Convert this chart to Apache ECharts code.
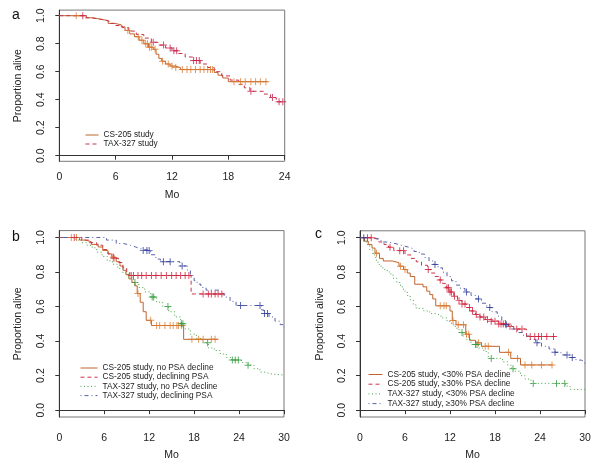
<!DOCTYPE html>
<html>
<head>
<meta charset="utf-8">
<script src="https://cdn.jsdelivr.net/npm/echarts@6/dist/echarts.min.js"></script>
<style>
html,body{margin:0;padding:0;background:#fff;}
#chart{width:600px;height:466px;}
</style>
</head>
<body>
<div id="chart"></div>
<script>
// ---------- Tick labels ----------
var yTicks = [0, 0.2, 0.4, 0.6, 0.8, 1.0];
var xMaxA = 24, xMaxBC = 30, xStep = 6;

// ---------- Panel a ----------
var aNames = ["CS-205 study", "TAX-327 study"];
var aCsT = [0, 2.9, 3.6, 4.4, 5.2, 5.9, 6.6, 7.0, 7.5, 8.0, 8.5, 9.0, 9.5, 10.0, 10.3, 10.6, 10.9, 11.3, 11.8, 12.3, 12.9, 16.5, 16.9, 17.4, 18.0, 22.2];
var aCsS = [1.0, 0.985, 0.975, 0.965, 0.945, 0.935, 0.92, 0.895, 0.87, 0.85, 0.825, 0.80, 0.775, 0.76, 0.725, 0.695, 0.675, 0.655, 0.64, 0.63, 0.615, 0.595, 0.575, 0.555, 0.529, 0.529];
var aCsCens = [1.8, 7.3, 8.4, 8.8, 9.2, 9.4, 9.6, 9.8, 10.2, 11.0, 11.6, 12.0, 12.4, 13.1, 13.6, 14.0, 14.5, 15.0, 15.4, 15.8, 16.1, 16.3, 18.6, 19.3, 19.8, 20.4, 20.9, 21.4, 22.0];
var aTaxT = [0, 2.7, 3.4, 4.4, 5.3, 6.0, 6.7, 7.4, 8.2, 9.0, 9.8, 10.5, 11.3, 12.0, 12.6, 13.4, 14.2, 15.0, 15.8, 16.5, 17.3, 18.2, 19.1, 19.7, 20.3, 21.8, 22.5, 23.1, 24.0];
var aTaxS = [1.0, 0.985, 0.975, 0.962, 0.945, 0.93, 0.915, 0.89, 0.865, 0.84, 0.81, 0.79, 0.77, 0.75, 0.73, 0.705, 0.68, 0.655, 0.63, 0.60, 0.57, 0.54, 0.51, 0.485, 0.46, 0.44, 0.415, 0.385, 0.385];
var aTaxCens = [2.5, 10.0, 11.1, 11.8, 12.2, 12.5, 14.3, 14.6, 14.9, 20.4, 22.7, 23.4, 23.8];

// ---------- Panel b ----------
var bNames = ["CS-205 study, no PSA decline", "CS-205 study, declining PSA", "TAX-327 study, no PSA decline", "TAX-327 study, declining PSA"];
var bCsNoT = [0, 2.7, 3.5, 4.3, 5.2, 5.8, 6.5, 7.0, 7.6, 8.1, 8.5, 8.9, 9.3, 9.7, 10.1, 10.4, 10.8, 11.2, 11.6, 12.3, 16.6, 21.2];
var bCsNoS = [1.0, 0.985, 0.975, 0.96, 0.945, 0.925, 0.905, 0.885, 0.86, 0.835, 0.81, 0.785, 0.76, 0.74, 0.72, 0.675, 0.625, 0.57, 0.52, 0.49, 0.41, 0.41];
var bCsNoCens = [1.6, 2.3, 7.2, 10.5, 12.2, 13.0, 13.4, 14.1, 14.8, 15.2, 15.7, 15.9, 16.3, 17.7, 18.6, 19.2, 20.3, 20.8];
var bCsDecT = [0, 3.0, 4.0, 5.0, 5.8, 6.5, 7.2, 7.9, 8.5, 9.0, 9.4, 17.6, 22.1];
var bCsDecS = [1.0, 0.985, 0.97, 0.955, 0.93, 0.905, 0.88, 0.855, 0.825, 0.80, 0.78, 0.673, 0.673];
var bCsDecCens = [2.0, 7.3, 9.6, 9.9, 10.5, 11.0, 11.6, 12.3, 12.9, 13.6, 14.3, 15.0, 15.6, 16.2, 16.8, 17.3, 19.2, 19.9, 20.3, 20.8, 21.2, 21.7];
var bTaxNoT = [0, 2.2, 3.0, 3.7, 4.4, 5.0, 5.7, 6.4, 7.1, 7.8, 8.5, 9.2, 9.9, 10.6, 11.4, 12.2, 13.0, 13.8, 14.6, 15.4, 16.2, 16.8, 17.5, 18.3, 19.1, 19.9, 20.7, 21.5, 22.3, 23.0, 24.3, 25.2, 26.0, 26.8, 27.5, 28.2, 30];
var bTaxNoS = [1.0, 0.985, 0.97, 0.955, 0.94, 0.915, 0.89, 0.865, 0.845, 0.82, 0.795, 0.77, 0.74, 0.71, 0.685, 0.655, 0.625, 0.60, 0.57, 0.54, 0.50, 0.47, 0.44, 0.415, 0.39, 0.36, 0.345, 0.325, 0.305, 0.29, 0.275, 0.26, 0.24, 0.22, 0.21, 0.203, 0.203];
var bTaxNoCens = [10.1, 12.4, 12.6, 14.5, 16.3, 16.5, 19.8, 23.1, 23.5, 23.9, 25.2];
var bTaxDecT = [0, 6.3, 7.6, 8.6, 9.5, 10.2, 10.8, 12.2, 12.9, 13.5, 16.1, 17.1, 17.5, 18.0, 18.4, 18.9, 19.6, 21.3, 22.0, 22.8, 23.6, 27.0, 27.3, 28.0, 28.8, 29.5, 30];
var bTaxDecS = [1.0, 0.985, 0.965, 0.955, 0.945, 0.935, 0.924, 0.90, 0.875, 0.86, 0.835, 0.81, 0.78, 0.75, 0.73, 0.71, 0.695, 0.676, 0.655, 0.63, 0.606, 0.58, 0.56, 0.54, 0.515, 0.495, 0.48];
var bTaxDecCens = [11.2, 11.7, 12.0, 13.9, 14.8, 16.4, 24.2, 26.8, 27.4, 27.8];

// ---------- Panel c ----------
var cNames = ["CS-205 study, <30% PSA decline", "CS-205 study, \u226530% PSA decline", "TAX-327 study, <30% PSA decline", "TAX-327 study, \u226530% PSA decline"];
var cCsLoT = [0, 0.6, 1.1, 1.6, 2.0, 2.6, 3.1, 4.3, 5.2, 5.8, 6.3, 6.7, 7.3, 8.4, 8.9, 9.3, 9.7, 10.1, 12.0, 12.3, 12.8, 14.1, 14.6, 15.4, 16.2, 18.6, 20.1, 21.4, 25.7];
var cCsLoS = [1.0, 0.98, 0.96, 0.94, 0.91, 0.88, 0.865, 0.855, 0.835, 0.815, 0.795, 0.775, 0.73, 0.715, 0.69, 0.67, 0.645, 0.605, 0.575, 0.52, 0.495, 0.44, 0.405, 0.39, 0.37, 0.335, 0.30, 0.262, 0.262];
var cCsLoCens = [2.2, 5.4, 6.0, 10.7, 11.2, 11.5, 12.4, 13.1, 13.8, 14.2, 14.5, 15.8, 16.7, 17.1, 19.8, 21.0, 22.0, 22.9, 24.2, 25.6];
var cCsHiT = [0, 1.6, 2.5, 3.2, 3.8, 4.5, 6.0, 6.8, 7.5, 8.2, 9.0, 9.5, 10.0, 10.5, 11.0, 11.5, 12.0, 12.5, 13.0, 13.6, 14.2, 14.8, 15.4, 16.0, 16.7, 17.5, 18.5, 19.8, 20.5, 22.2, 26.4];
var cCsHiS = [1.0, 0.99, 0.975, 0.96, 0.945, 0.925, 0.9, 0.88, 0.86, 0.84, 0.815, 0.795, 0.775, 0.755, 0.735, 0.71, 0.685, 0.66, 0.635, 0.615, 0.595, 0.575, 0.555, 0.54, 0.525, 0.515, 0.50, 0.485, 0.47, 0.427, 0.427];
var cCsHiCens = [1.0, 1.5, 4.0, 5.3, 5.8, 9.1, 10.7, 11.6, 11.8, 12.0, 12.2, 12.6, 13.2, 13.6, 14.0, 14.6, 15.0, 15.5, 16.0, 16.5, 17.0, 17.5, 18.0, 18.5, 18.8, 19.1, 19.4, 20.0, 20.9, 21.6, 22.7, 23.3, 23.8, 24.2, 24.9, 25.8];
var cTaxLoT = [0, 0.5, 0.9, 1.3, 1.7, 2.1, 2.4, 2.8, 3.3, 3.9, 4.4, 4.9, 5.4, 5.8, 6.3, 6.7, 7.1, 7.5, 8.5, 9.3, 10.0, 10.8, 11.6, 12.2, 12.7, 13.2, 13.7, 14.2, 14.8, 15.8, 16.5, 17.1, 19.0, 19.7, 20.2, 20.7, 21.4, 22.0, 22.8, 27.4, 28.0, 30];
var cTaxLoS = [1.0, 0.98, 0.96, 0.93, 0.90, 0.87, 0.845, 0.825, 0.81, 0.79, 0.765, 0.74, 0.715, 0.69, 0.665, 0.64, 0.61, 0.59, 0.575, 0.56, 0.55, 0.535, 0.515, 0.495, 0.475, 0.45, 0.43, 0.41, 0.38, 0.36, 0.34, 0.30, 0.28, 0.26, 0.24, 0.225, 0.20, 0.18, 0.155, 0.14, 0.12, 0.12];
var cTaxLoCens = [13.6, 15.4, 15.6, 17.5, 20.4, 23.1, 26.2, 27.3];
var cTaxHiT = [0, 1.8, 2.8, 3.8, 4.8, 5.6, 6.5, 7.2, 7.9, 8.6, 9.2, 9.8, 10.4, 11.0, 11.6, 12.2, 12.8, 13.4, 14.0, 14.8, 15.5, 16.2, 16.9, 17.6, 18.3, 18.9, 19.5, 20.2, 21.0, 21.8, 22.6, 23.4, 24.2, 25.2, 26.0, 26.8, 28.0, 28.8, 29.5, 30];
var cTaxHiS = [1.0, 0.99, 0.975, 0.965, 0.955, 0.945, 0.935, 0.92, 0.905, 0.885, 0.865, 0.845, 0.825, 0.80, 0.775, 0.75, 0.725, 0.705, 0.685, 0.665, 0.645, 0.62, 0.595, 0.57, 0.545, 0.52, 0.495, 0.47, 0.45, 0.43, 0.41, 0.39, 0.37, 0.355, 0.335, 0.32, 0.305, 0.29, 0.28, 0.27];
var cTaxHiCens = [0.5, 10.0, 14.2, 15.8, 17.3, 19.5, 23.6, 26.0, 27.6, 28.3];

// ---------- Styles ----------
var FONT = "'Liberation Sans', Arial, Helvetica, sans-serif";
var COL = {
  orange: {line: '#c0652c', mark: '#dc7a30'},
  red:    {line: '#cc3448', mark: '#d0203c'},
  pink:   {line: '#c8324e', mark: '#c82048'},
  green:  {line: '#4aa24a', mark: '#2e9a3a'},
  blue:   {line: '#5862a8', mark: '#2c3a9c'}
};
var DASH = {solid: 'solid', dashed: [4, 3], dotted: [1, 2.5], dashdot: [1, 3, 4, 3]};
var PLUS = 'path://M-0.14,-1H0.14V-0.14H1V0.14H0.14V1H-0.14V0.14H-1V-0.14H-0.14Z';

function stepAt(ts, ss, t) {
  var v = ss[0];
  for (var i = 0; i < ts.length; i++) { if (ts[i] <= t) v = ss[i]; else break; }
  return v;
}

var series = [];
function addCurve(idx, name, ts, ss, cens, col, dash) {
  series.push({
    type: 'line', name: name, step: 'end', xAxisIndex: idx, yAxisIndex: idx,
    symbol: 'none', showSymbol: false, animation: false, z: 2,
    lineStyle: {color: col.line, width: 1, type: dash},
    itemStyle: {color: col.line},
    data: ts.map(function (t, i) { return [t, ss[i]]; })
  });
  series.push({
    type: 'scatter', name: name + ' (censored)', xAxisIndex: idx, yAxisIndex: idx,
    symbol: PLUS, symbolSize: 7, animation: false, z: 3, silent: true,
    itemStyle: {color: col.mark},
    data: cens.map(function (t) { return [t, stepAt(ts, ss, t)]; })
  });
}

addCurve(0, aNames[0], aCsT, aCsS, aCsCens, COL.orange, DASH.solid);
addCurve(0, aNames[1], aTaxT, aTaxS, aTaxCens, COL.pink, DASH.dashed);
addCurve(1, bNames[0], bCsNoT, bCsNoS, bCsNoCens, COL.orange, DASH.solid);
addCurve(1, bNames[1], bCsDecT, bCsDecS, bCsDecCens, COL.red, DASH.dashed);
addCurve(1, bNames[2], bTaxNoT, bTaxNoS, bTaxNoCens, COL.green, DASH.dotted);
addCurve(1, bNames[3], bTaxDecT, bTaxDecS, bTaxDecCens, COL.blue, DASH.dashdot);
addCurve(2, cNames[0], cCsLoT, cCsLoS, cCsLoCens, COL.orange, DASH.solid);
addCurve(2, cNames[1], cCsHiT, cCsHiS, cCsHiCens, COL.red, DASH.dashed);
addCurve(2, cNames[2], cTaxLoT, cTaxLoS, cTaxLoCens, COL.green, DASH.dotted);
addCurve(2, cNames[3], cTaxHiT, cTaxHiS, cTaxHiCens, COL.blue, DASH.dashdot);

var grids = [
  {left: 59.3, top: 10.1, width: 225.4, height: 151.2},
  {left: 59.3, top: 230.6, width: 224.7, height: 186.4},
  {left: 360, top: 230.8, width: 225, height: 186.2}
];
grids.forEach(function (g) { g.show = true; g.borderColor = '#777'; g.borderWidth = 1; g.containLabel = false; });

function xAx(idx, max, labelMargin, nameGap) {
  return {
    type: 'value', gridIndex: idx, min: 0, max: max, interval: xStep,
    name: 'Mo', nameLocation: 'middle', nameGap: nameGap,
    nameTextStyle: {fontFamily: FONT, fontSize: 10.5, color: '#222'},
    axisLine: {show: true, lineStyle: {color: '#333', width: 1}},
    axisTick: {show: true, length: 4, inside: false, lineStyle: {color: '#333'}},
    axisLabel: {show: true, margin: labelMargin, fontFamily: FONT, fontSize: 10.5, color: '#222'},
    splitLine: {show: false}
  };
}
function yAx(idx, nameGap, labelMargin) {
  return {
    type: 'value', gridIndex: idx, min: -0.04, max: 1.04,
    name: 'Proportion alive', nameLocation: 'middle', nameGap: nameGap,
    nameTextStyle: {fontFamily: FONT, fontSize: 10.5, color: '#222'},
    axisLine: {show: true, lineStyle: {color: '#333', width: 1}},
    axisTick: {show: true, length: 4, customValues: yTicks, lineStyle: {color: '#333'}},
    axisLabel: {show: true, rotate: 90, margin: labelMargin, customValues: yTicks,
      fontFamily: FONT, fontSize: 10.5, color: '#222',
      formatter: function (v) { return v.toFixed(1); }},
    splitLine: {show: false}
  };
}

var legendBase = {orient: 'vertical', padding: 0, itemHeight: 8,
  itemStyle: {color: 'rgba(0,0,0,0)', borderWidth: 0, opacity: 0},
  lineStyle: {width: 1},
  textStyle: {fontFamily: FONT, fontSize: 8.3, color: '#222'}, selectedMode: false};

var option = {
  backgroundColor: '#fff',
  animation: false,
  grid: grids,
  xAxis: [xAx(0, xMaxA, 10, 28), xAx(1, xMaxBC, 16, 33), xAx(2, xMaxBC, 16, 33)],
  yAxis: [yAx(0, 36, 13), yAx(1, 36, 13), yAx(2, 34, 12)],
  legend: [
    Object.assign({}, legendBase, {data: aNames, left: 85, top: 131, itemWidth: 13, itemGap: 1}),
    Object.assign({}, legendBase, {data: bNames, left: 80, top: 364, itemWidth: 17, itemGap: 1.2}),
    Object.assign({}, legendBase, {data: cNames, left: 368, top: 370.5, itemWidth: 14, itemGap: 1.7})
  ],
  graphic: [
    {type: 'text', left: 12, top: 8, style: {text: 'a', font: '14px ' + FONT, fill: '#111'}},
    {type: 'text', left: 12, top: 230, style: {text: 'b', font: '14px ' + FONT, fill: '#111'}},
    {type: 'text', left: 315, top: 227, style: {text: 'c', font: '14px ' + FONT, fill: '#111'}}
  ],
  series: series
};

var chart = echarts.init(document.getElementById('chart'), null, {renderer: 'canvas'});
chart.setOption(option);
</script>
</body>
</html>
